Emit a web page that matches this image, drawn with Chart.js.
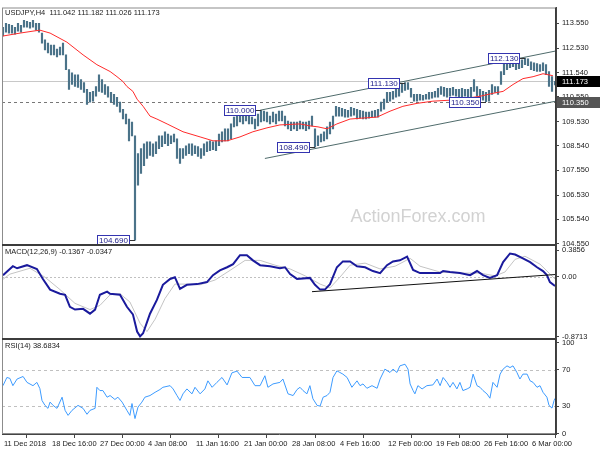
<!DOCTYPE html>
<html>
<head>
<meta charset="utf-8">
<script src="https://cdn.jsdelivr.net/npm/chart.js@4.4.1/dist/chart.umd.min.js"></script>
<style>
html, body { margin: 0; padding: 0; background: #fff; }
#wrap { width: 600px; height: 450px; }
</style>
</head>
<body>
<div id="wrap"><canvas id="myChart" width="600" height="450"></canvas></div>
<script>
// time axis (bar index -> label)
const xTickIdx = [0, 16, 32, 48, 64, 80, 96, 112, 128, 144, 160, 176];
const xLabels = ['11 Dec 2018', '18 Dec 16:00', '27 Dec 00:00', '4 Jan 08:00', '11 Jan 16:00', '21 Jan 00:00',
    '28 Jan 08:00', '4 Feb 16:00', '12 Feb 00:00', '19 Feb 08:00', '26 Feb 16:00', '6 Mar 00:00'];

// price bars, one per index
const barHigh = [113.39, 113.55, 113.51, 113.47, 113.39, 113.55, 113.47, 113.67, 113.63, 113.59,
    113.67, 113.55, 113.55, 113.15, 112.87, 112.74, 112.66, 112.66, 112.50, 112.58,
    112.74, 112.26, 111.66, 111.53, 111.45, 111.45, 111.25, 111.13, 110.85, 110.73,
    110.77, 110.97, 111.45, 111.25, 111.05, 110.97, 110.73, 110.65, 110.53, 110.33,
    110.04, 109.84, 109.64, 109.52, 108.95, 108.23, 108.43, 108.63, 108.71, 108.71,
    108.63, 108.71, 108.95, 108.95, 109.12, 109.03, 108.95, 109.03, 108.83, 108.43,
    108.43, 108.55, 108.63, 108.63, 108.55, 108.51, 108.43, 108.63, 108.71, 108.75,
    108.71, 108.75, 109.03, 109.12, 109.24, 109.24, 109.44, 109.72, 109.76, 109.92,
    109.92, 109.84, 109.76, 109.72, 109.64, 109.84, 110.00, 109.96, 109.92, 109.76,
    109.92, 109.84, 109.96, 109.96, 109.76, 109.56, 109.52, 109.52, 109.52, 109.56,
    109.52, 109.52, 109.56, 109.76, 109.24, 108.95, 109.03, 109.12, 109.32, 109.52,
    109.76, 110.16, 110.12, 110.08, 110.04, 110.00, 110.12, 110.08, 110.04, 110.00,
    109.96, 109.92, 109.92, 109.96, 110.00, 110.04, 110.33, 110.45, 110.73, 110.73,
    110.77, 110.89, 110.97, 111.09, 111.13, 111.13, 110.89, 110.65, 110.65, 110.65,
    110.61, 110.65, 110.73, 110.73, 110.77, 110.89, 110.97, 110.93, 110.89, 110.89,
    110.93, 110.85, 110.85, 110.89, 110.85, 110.85, 110.93, 111.25, 110.97, 110.85,
    110.77, 110.73, 110.81, 111.05, 110.97, 110.97, 111.58, 111.98, 112.06, 112.10,
    112.10, 112.06, 112.06, 112.06, 112.13, 112.10, 111.98, 111.94, 111.90, 111.86,
    111.94, 111.86, 111.58, 111.37, 111.18];
const barLow = [113.03, 113.19, 113.15, 113.15, 113.11, 113.23, 113.19, 113.39, 113.39, 113.35,
    113.39, 113.27, 113.19, 112.74, 112.46, 112.34, 112.26, 112.26, 112.18, 112.26,
    112.26, 111.66, 110.85, 111.05, 110.97, 110.93, 110.85, 110.73, 110.24, 110.33,
    110.37, 110.57, 110.77, 110.73, 110.65, 110.53, 110.33, 110.24, 110.16, 109.92,
    109.64, 109.44, 108.75, 108.95, 104.69, 106.94, 107.42, 107.74, 108.03, 108.15,
    108.11, 108.23, 108.43, 108.51, 108.63, 108.55, 108.63, 108.71, 108.03, 107.83,
    108.03, 108.15, 108.23, 108.15, 108.23, 108.11, 108.03, 108.15, 108.31, 108.35,
    108.39, 108.35, 108.55, 108.71, 108.75, 108.75, 108.83, 109.32, 109.36, 109.52,
    109.44, 109.56, 109.44, 109.44, 109.24, 109.36, 109.52, 109.56, 109.52, 109.44,
    109.52, 109.44, 109.56, 109.56, 109.36, 109.24, 109.16, 109.24, 109.16, 109.24,
    109.24, 109.16, 109.24, 109.36, 108.49, 108.55, 108.71, 108.75, 108.83, 109.03,
    109.24, 109.76, 109.76, 109.76, 109.72, 109.72, 109.76, 109.80, 109.64, 109.68,
    109.64, 109.64, 109.68, 109.72, 109.72, 109.72, 109.96, 110.04, 110.33, 110.37,
    110.45, 110.53, 110.57, 110.73, 110.81, 110.85, 110.53, 110.37, 110.37, 110.41,
    110.41, 110.45, 110.45, 110.49, 110.53, 110.53, 110.65, 110.57, 110.53, 110.57,
    110.61, 110.57, 110.53, 110.53, 110.57, 110.45, 110.49, 110.77, 110.57, 110.49,
    110.41, 110.35, 110.37, 110.65, 110.73, 110.65, 111.05, 111.45, 111.66, 111.74,
    111.78, 111.66, 111.70, 111.74, 111.86, 111.82, 111.66, 111.62, 111.58, 111.58,
    111.62, 111.45, 110.97, 110.77, 111.03];

// moving average [barIndex, price]
const maLine = [[0, 113.03], [5.7, 113.15], [10, 113.23], [12.3, 113.27], [15.7, 113.15], [21.3, 112.78],
    [26.7, 112.26], [31.3, 111.86], [35.7, 111.58], [38, 111.37], [40, 111.17], [41.3, 110.97],
    [43.3, 110.77], [44.7, 110.45], [46.7, 110.16], [49, 109.76], [51.3, 109.64], [54.7, 109.44],
    [60, 109.12], [65.7, 108.91], [70, 108.75], [74.7, 108.75], [79, 108.91], [83.3, 109.12],
    [88, 109.28], [92.3, 109.40], [99, 109.44], [102.3, 109.36], [105, 109.32], [108, 109.24],
    [111.3, 109.44], [115.7, 109.64], [120, 109.68], [124.7, 109.72], [129, 109.96], [133.3, 110.16],
    [138, 110.28], [143.3, 110.37], [149, 110.41], [154.7, 110.49], [159, 110.57], [163.3, 110.69],
    [166.7, 110.77], [170, 111.05], [173.3, 111.29], [176.7, 111.37], [180, 111.49], [183.3, 111.41]];

const upperChannel = [[85.7, 110.00], [184.3, 112.42]];
const lowerChannel = [[87.3, 108.03], [184.3, 110.37]];
const priceTicks = [113.55, 112.53, 111.54, 110.55, 109.53, 108.54, 107.55, 106.53, 105.54, 104.55];
const lastPrice = 111.173;
const supportLevel = 110.35;
// marked highs / lows [barIndex, price]
const priceNotes = [[44, 104.69], [86, 110.00], [104, 108.49], [134, 111.13], [161, 110.35], [174, 112.13]];

// MACD panel
const macdLine = [[0, 0.02], [3.3, 0.15], [4.7, 0.12], [8, 0.165], [11.3, 0.11], [13.3, -0.035], [15.7, -0.19],
    [19, -0.25], [20.7, -0.265], [22.3, -0.44], [24, -0.48], [26.7, -0.47], [29, -0.54], [30.7, -0.48],
    [32.3, -0.265], [34.7, -0.22], [35.7, -0.25], [39, -0.265], [41.3, -0.44], [43.3, -0.55], [44.7, -0.8],
    [45.7, -0.87], [46.7, -0.825], [49, -0.54], [51.3, -0.34], [53.3, -0.12], [55.7, -0.035], [57.3, -0.01],
    [59, -0.18], [61.3, -0.12], [64.7, -0.11], [68, -0.08], [70, 0.02], [72.3, 0.09], [74.7, 0.135],
    [76.7, 0.18], [79, 0.31], [81.3, 0.31], [83.3, 0.235], [85.7, 0.165], [89, 0.15], [92.3, 0.12],
    [94, 0.135], [95.7, 0.035], [98, -0.035], [102.3, -0.02], [104, -0.12], [105.7, -0.19], [107.3, -0.19],
    [109, -0.11], [111.3, 0.135], [113.3, 0.22], [115.7, 0.22], [118, 0.15], [120.7, 0.135], [123.3, 0.08],
    [125.7, 0.05], [128, 0.165], [130, 0.22], [132.3, 0.235], [134.7, 0.29], [136.7, 0.095], [139, 0.05],
    [142.3, 0.05], [145.7, 0.05], [146.7, 0.08], [149, 0.065], [152.3, 0.05], [155.7, 0.02], [158, 0.08],
    [160, 0.02], [162.3, -0.02], [164.7, 0.02], [166.7, 0.21], [169, 0.335], [170.7, 0.32], [173.3, 0.265],
    [175.7, 0.21], [178, 0.135], [180, 0.08], [181.3, 0.02], [182.3, -0.08], [184, -0.1367]];
const signalLine = [[0, -0.04], [2.3, 0.035], [9, 0.12], [14, -0.01], [19, -0.19], [24, -0.39], [29, -0.48],
    [32.3, -0.42], [35.7, -0.265], [39, -0.25], [42.3, -0.37], [45.7, -0.68], [48, -0.80], [50.7, -0.62],
    [54, -0.32], [57.3, -0.11], [60.7, -0.11], [65.7, -0.12], [70.7, -0.05], [75.7, 0.09], [80.7, 0.235],
    [85.7, 0.235], [90.7, 0.165], [95.7, 0.11], [100.7, 0.01], [105.7, -0.11], [109, -0.165], [112.3, -0.01],
    [115.7, 0.165], [120.7, 0.195], [125.7, 0.11], [130.7, 0.15], [135.7, 0.265], [139, 0.15], [145.7, 0.065],
    [152.3, 0.05], [159, 0.05], [164, 0.01], [167.3, 0.065], [170.7, 0.25], [174, 0.295], [179, 0.18],
    [184, -0.0347]];
const macdTrend = [[103, -0.22], [184.3, 0.03]];
const macdTicks = [0.3856, 0, -0.8713];

// RSI panel
const rsiLine = [[0, 52.7], [1.3, 61.7], [2.3, 60.7], [3.3, 52.7], [4.7, 60], [6.7, 62.8], [8, 56.3], [10, 52.7],
    [11.3, 56.3], [12.3, 49.4], [13, 36.4], [14, 31], [15, 27.7], [15.7, 34.6], [16.7, 31], [18, 27.7],
    [19.7, 40], [20.7, 25.5], [21.7, 20], [23, 25.5], [25, 31], [26.7, 27.7], [28, 21.2], [29, 25.5],
    [30.7, 27.7], [31.3, 50.9], [32.3, 47.3], [33.3, 47.3], [34.7, 40], [35.7, 41.8], [37.3, 37.5], [38.3, 40],
    [39.7, 34.6], [41.3, 25.5], [42.3, 20], [43, 33], [44, 16.5], [45, 29.1], [46.3, 34.6], [47.3, 40],
    [49, 41.8], [50.7, 45.4], [52.3, 48.4], [53.3, 50.9], [55.7, 52.7], [56.7, 49.1], [58, 41.8], [59, 36.4],
    [60, 43.7], [61.3, 49.1], [63, 43.7], [64, 50.9], [65.7, 43.7], [67.3, 49.1], [68.3, 58], [69.7, 50.9],
    [71.3, 56.3], [73, 61.7], [74.7, 53.5], [76.3, 66.8], [78, 68.7], [79.7, 61.7], [82.3, 61.7], [84, 52.7],
    [85.7, 52.7], [87.3, 63.6], [88.3, 50.9], [90, 54.6], [92.3, 56.3], [93.3, 60], [95, 43.7], [96.7, 41.8],
    [98, 48.4], [99, 50.9], [100, 47.3], [101.3, 43.7], [102.3, 52.7], [103.3, 38.3], [104.7, 31], [105.7, 30.2],
    [106.7, 40], [108, 41.8], [109, 45.4], [110, 61.7], [111.3, 69], [112.3, 67.2], [113.3, 65.4], [114.7, 61.7],
    [116.3, 50.9], [118, 58], [119, 52.7], [120, 54.6], [121.3, 49.8], [123, 52.7], [124.7, 49.8], [125.7, 60],
    [127.3, 70.9], [129, 67.2], [130, 70.9], [131.3, 67.2], [132.3, 74.5], [134, 76.3], [135, 70.9], [135.7, 54.6],
    [136.7, 47.3], [137.3, 43.7], [138.3, 52.7], [139.7, 49.1], [141.3, 52.7], [143.3, 53.5], [144.7, 60],
    [145.7, 52.7], [146.7, 61.7], [148, 56.3], [149, 50.9], [150, 56.3], [151.3, 49.1], [152.3, 56.3],
    [153.3, 47.3], [154.7, 49.1], [155.7, 50.9], [156.7, 65.4], [158, 52.7], [159, 50.9], [160, 47.3],
    [161.3, 43.7], [162.3, 38.9], [163.3, 56.3], [164.7, 50.9], [165.7, 65.4], [166.7, 70.9], [168, 74.5],
    [169, 72.6], [170, 74.5], [171.3, 67.2], [172.3, 60], [173.3, 65.4], [174.7, 65.4], [175.7, 58], [176.7, 56.3],
    [178, 50.9], [179, 52.7], [180, 45.4], [181.3, 40], [182, 31], [183, 28], [183.7, 36.4], [184, 38.68]];
const rsiTicks = [100, 70, 30, 0];
const rsiLevels = [70, 30];

const mainTitle = 'USDJPY,H4  111.042 111.182 111.026 111.173';
const macdTitle = 'MACD(12,26,9) -0.1367 -0.0347';
const rsiTitle = 'RSI(14) 38.6834';

const FONT = '"Liberation Sans", Arial, sans-serif';
const toXY = arr => arr.map(p => ({ x: p[0], y: p[1] }));

function hline(c, a, y, color, dash) {
    c.save();
    c.strokeStyle = color;
    c.lineWidth = 1;
    c.setLineDash(dash);
    c.beginPath();
    c.moveTo(a.left, Math.round(y) + 0.5);
    c.lineTo(a.right, Math.round(y) + 0.5);
    c.stroke();
    c.restore();
}

const paneDecor = {
    id: 'paneDecor',
    beforeDatasetsDraw(chart) {
        const c = chart.ctx, a = chart.chartArea;
        const yM = chart.scales.yMain, yD = chart.scales.yMacd, yR = chart.scales.yRsi;
        c.save();
        c.fillStyle = '#d2d2d2';
        c.font = '18px ' + FONT;
        c.textAlign = 'center';
        c.textBaseline = 'alphabetic';
        c.fillText('ActionForex.com', 418, 222);
        c.restore();
        hline(c, a, yM.getPixelForValue(lastPrice), '#c8c8c8', []);
        hline(c, a, yM.getPixelForValue(supportLevel), '#777', [3, 3]);
        hline(c, a, yD.getPixelForValue(0), '#c0c0c0', [2, 2]);
        rsiLevels.forEach(v => hline(c, a, yR.getPixelForValue(v), '#c0c0c0', [3, 3]));
    },
    afterDatasetsDraw(chart) {
        const c = chart.ctx, xs = chart.scales.x, yM = chart.scales.yMain;
        c.save();
        c.font = '8px ' + FONT;
        c.textBaseline = 'middle';
        c.textAlign = 'left';
        priceNotes.forEach(n => {
            const bx = xs.getPixelForValue(n[0]);
            const by = Math.round(yM.getPixelForValue(n[1]));
            const txt = n[1].toFixed(3);
            const w = Math.round(c.measureText(txt).width) + 4;
            const right = Math.round(bx) - 5;
            c.strokeStyle = '#333';
            c.lineWidth = 1;
            c.beginPath();
            c.moveTo(right, by + 0.5);
            c.lineTo(bx, by + 0.5);
            c.stroke();
            c.fillStyle = '#fff';
            c.fillRect(right - w, by - 5, w, 10);
            c.strokeStyle = '#3434b0';
            c.strokeRect(right - w + 0.5, by - 4.5, w - 1, 10);
            c.fillStyle = '#22228a';
            c.fillText(txt, right - w + 2, by + 0.5);
        });
        c.restore();
    },
    afterDraw(chart) {
        const c = chart.ctx, a = chart.chartArea;
        const yM = chart.scales.yMain, yD = chart.scales.yMacd, yR = chart.scales.yRsi;
        c.save();
        // pane frames
        c.strokeStyle = '#8c8c8c';
        c.lineWidth = 1;
        c.strokeRect(a.left + 0.5, a.top + 0.5, a.right - a.left - 1, a.bottom - a.top - 1);
        c.fillStyle = '#3c3c3c';
        c.fillRect(a.left, Math.round(yM.bottom) - 1, a.right - a.left, 2);
        c.fillRect(a.left, Math.round(yD.bottom) - 1, a.right - a.left, 2);
        c.fillRect(a.right - 1, a.top, 1, a.bottom - a.top);
        // titles
        c.fillStyle = '#222';
        c.font = '7.5px ' + FONT;
        c.textAlign = 'left';
        c.textBaseline = 'middle';
        c.fillText(mainTitle, a.left + 3, yM.top + 5);
        c.fillText(macdTitle, a.left + 3, yD.top + 7);
        c.fillText(rsiTitle, a.left + 3, yR.top + 7);
        // price boxes on the axis
        [[lastPrice, '#000'], [supportLevel, '#555']].forEach(p => {
            const y = Math.round(yM.getPixelForValue(p[0]));
            c.fillStyle = p[1];
            c.fillRect(a.right + 1, y - 5, 600 - a.right - 1, 11);
            c.fillStyle = '#fff';
            c.font = '7.5px ' + FONT;
            c.fillText(p[0].toFixed(3), a.right + 6, y + 0.5);
        });
        c.restore();
    }
};

function yAxis(extra) {
    return Object.assign({
        type: 'linear',
        position: 'right',
        stack: 'panes',
        offset: false,
        grid: { drawOnChartArea: false, drawTicks: true, tickLength: 3, color: '#444' },
        border: { display: true, color: '#444' },
        afterFit: s => { s.width = 44; }
    }, extra);
}

var ctx = document.getElementById('myChart').getContext('2d');
var myChart = new Chart(ctx, {
    type: 'line',
    data: {
        datasets: [
            { label: 'MA', data: toXY(maLine), yAxisID: 'yMain', borderColor: '#ff2b2b', borderWidth: 1, pointRadius: 0, order: 1 },
            { label: 'Upper', data: toXY(upperChannel), yAxisID: 'yMain', borderColor: '#4f6b6b', borderWidth: 1, pointRadius: 0, order: 1 },
            { label: 'Lower', data: toXY(lowerChannel), yAxisID: 'yMain', borderColor: '#4f6b6b', borderWidth: 1, pointRadius: 0, order: 1 },
            {
                type: 'bar', label: 'USDJPY', yAxisID: 'yMain', order: 2,
                data: barHigh.map((h, i) => ({ x: i, y: [barLow[i], h] })),
                backgroundColor: '#4b7389', barThickness: 1.5, grouped: false
            },
            { label: 'Signal', data: toXY(signalLine), yAxisID: 'yMacd', borderColor: '#c4c4c4', borderWidth: 1, pointRadius: 0, order: 2 },
            { label: 'MACD', data: toXY(macdLine), yAxisID: 'yMacd', borderColor: '#1a1a9c', borderWidth: 2, pointRadius: 0, order: 1 },
            { label: 'Trend', data: toXY(macdTrend), yAxisID: 'yMacd', borderColor: '#111', borderWidth: 1, pointRadius: 0, order: 0 },
            { label: 'RSI', data: toXY(rsiLine), yAxisID: 'yRsi', borderColor: '#3d9bff', borderWidth: 1, pointRadius: 0, order: 1 }
        ]
    },
    options: {
        responsive: false,
        animation: false,
        events: [],
        layout: { padding: { top: 2, left: 2, right: 0, bottom: 0 } },
        plugins: { legend: { display: false }, tooltip: { enabled: false } },
        scales: {
            x: {
                type: 'linear', min: -0.33, max: 184.33, offset: false,
                grid: { drawOnChartArea: false, drawTicks: true, tickLength: 4, color: '#444' },
                border: { display: true, color: '#444' },
                afterBuildTicks: s => { s.ticks = xTickIdx.map(v => ({ value: v })); },
                afterFit: s => { s.height = 16; },
                ticks: {
                    autoSkip: false, maxRotation: 0, align: 'start', labelOffset: 1, padding: 1,
                    color: '#222', font: { family: FONT, size: 7.5 },
                    callback: (v, i) => xLabels[i]
                }
            },
            yMain: yAxis({
                stackWeight: 241, min: 104.478, max: 114.195,
                afterBuildTicks: s => { s.ticks = priceTicks.map(v => ({ value: v })); },
                ticks: { autoSkip: false, padding: 3, color: '#222', font: { family: FONT, size: 7.5 }, callback: v => v.toFixed(3) }
            }),
            yMacd: yAxis({
                stackWeight: 95, min: -0.911, max: 0.452,
                afterBuildTicks: s => { s.ticks = macdTicks.map(v => ({ value: v })); },
                ticks: { autoSkip: false, padding: 3, color: '#222', font: { family: FONT, size: 7.5 }, callback: v => v === 0 ? '0.00' : v.toFixed(4) }
            }),
            yRsi: yAxis({
                stackWeight: 96, min: -0.5, max: 103.8,
                afterBuildTicks: s => { s.ticks = rsiTicks.map(v => ({ value: v })); },
                ticks: { autoSkip: false, padding: 3, color: '#222', font: { family: FONT, size: 7.5 }, callback: v => String(v) }
            })
        }
    },
    plugins: [paneDecor]
});
</script>
</body>
</html>
